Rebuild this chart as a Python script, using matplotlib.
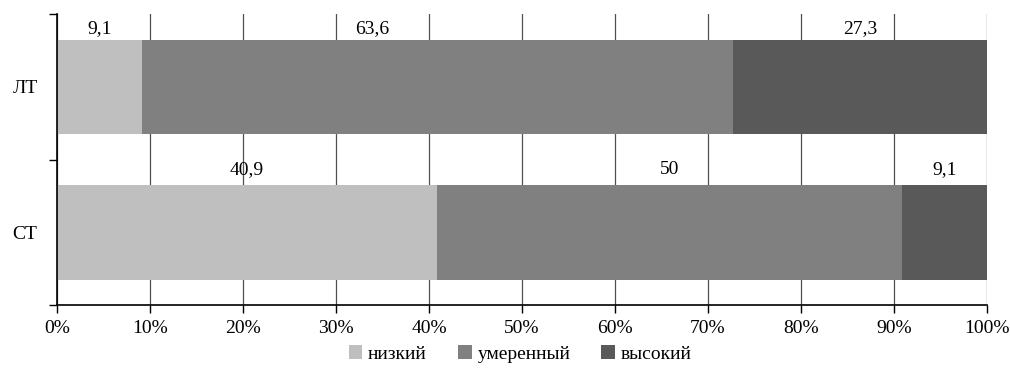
import matplotlib.pyplot as plt
from matplotlib.ticker import FixedLocator

groups = ['ЛТ', 'СТ']
levels = ['низкий', 'умеренный', 'высокий']
colors = ['#BFBFBF', '#808080', '#595959']
low = [9.1, 40.9]
moderate = [63.6, 50.0]
high = [27.3, 9.1]
labels = [['9,1', '63,6', '27,3'], ['40,9', '50', '9,1']]
# manual nudge for the middle label of the first row (in percent)
label_shift = [[0, -7, 0], [0, 0, 0]]
label_lift = [2, 5]
xticks = list(range(0, 101, 10))

plt.rcParams['font.family'] = ['Liberation Serif', 'DejaVu Serif']
plt.rcParams['font.size'] = 14

fig = plt.figure(figsize=(10.10, 3.71), dpi=100)
ax = fig.add_axes([0.0564, 0.178, 0.9208, 0.784])

ypos = [1, 0]
series = [low, moderate, high]
left = [0, 0]
for i, vals in enumerate(series):
    ax.barh(ypos, vals, left=left, height=0.65, color=colors[i], label=levels[i], zorder=2)
    for j in range(2):
        cx = left[j] + vals[j] / 2 + label_shift[j][i]
        ax.annotate(labels[j][i], (cx, ypos[j] + 0.325), xytext=(0, label_lift[j]),
                    textcoords='offset points', ha='center', va='bottom', zorder=3)
    left = [left[k] + vals[k] for k in range(2)]

ax.set_xlim(0, 100)
ax.set_ylim(-0.5, 1.5)
ax.set_xticks(xticks)
ax.set_xticklabels([f'{v}%' for v in xticks])
ax.set_yticks(ypos)
ax.set_yticklabels(groups)
ax.yaxis.set_minor_locator(FixedLocator([-0.5, 0.5, 1.5]))
ax.tick_params(axis='y', which='major', length=0, pad=14)
ax.tick_params(axis='y', which='minor', length=6, width=1, direction='out')
ax.tick_params(axis='x', length=6, width=1, direction='out', pad=5)
ax.grid(axis='x', color='#505050', linewidth=0.9, zorder=0)
ax.set_axisbelow(True)
for s in ['top', 'right']:
    ax.spines[s].set_visible(False)
ax.spines['left'].set_linewidth(1.2)
ax.spines['bottom'].set_linewidth(1.2)

fig.legend(loc='lower center', bbox_to_anchor=(0.515, -0.025), ncol=3, frameon=False,
           handlelength=0.7, handleheight=0.7, handletextpad=0.3, columnspacing=1.6)

fig.savefig('out.png', dpi=100)
